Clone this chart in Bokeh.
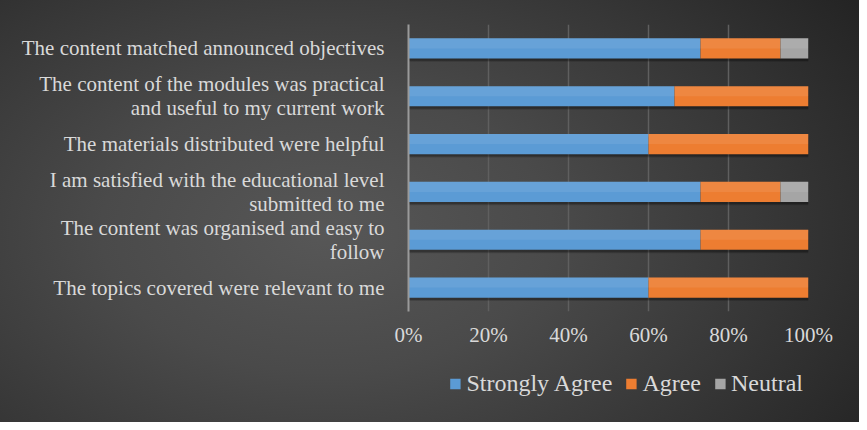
from bokeh.plotting import figure
from bokeh.layouts import column
from bokeh.models import Range1d, FixedTicker, NumeralTickFormatter, Legend, LegendItem, ColumnDataSource
from bokeh.transform import dodge
from bokeh.embed import file_html
from bokeh.resources import INLINE

categories = [
    "The content matched announced objectives",
    "The content of the modules was practical\nand useful to my current work",
    "The materials distributed were helpful",
    "I am satisfied with the educational level\nsubmitted to me",
    "The content was organised and easy to\nfollow",
    "The topics covered were relevant to me",
]
strongly_agree = [0.73, 0.665, 0.60, 0.73, 0.73, 0.60]
agree = [0.20, 0.335, 0.40, 0.20, 0.27, 0.40]
neutral = [0.07, 0.0, 0.0, 0.07, 0.0, 0.0]
series_names = ["Strongly Agree", "Agree", "Neutral"]
series_colors = ["#5b9bd5", "#ed7d31", "#a5a5a5"]
x_ticks = [0, 0.2, 0.4, 0.6, 0.8, 1.0]

factors = list(reversed(categories))
FONT = "Liberation Serif"
TXT = "#d9d9d9"

p = figure(
    width=859, height=365,
    y_range=factors, x_range=Range1d(0, 1),
    output_backend="svg", toolbar_location=None,
    min_border_left=408, min_border_right=51, min_border_top=24, min_border_bottom=54,
)
p.background_fill_alpha = 0
p.border_fill_alpha = 0
p.outline_line_color = None

lefts = [0.0] * len(categories)
ends1 = [a for a in strongly_agree]
ends2 = [a + b for a, b in zip(strongly_agree, agree)]
ends3 = [a + b + c for a, b, c in zip(strongly_agree, agree, neutral)]
source = ColumnDataSource(dict(y=categories, l0=lefts, e1=ends1, e2=ends2, e3=ends3))

# soft shadows
p.hbar(y=dodge("y", -0.05, range=p.y_range), left="l0", right="e3", height=0.42,
       source=source, fill_color="black", fill_alpha=0.25, line_color=None)
p.hbar(y=dodge("y", -0.07, range=p.y_range), left="l0", right="e3", height=0.42,
       source=source, fill_color="black", fill_alpha=0.15, line_color=None)

p.hbar(y="y", left="l0", right="e1", height=0.42, source=source,
       fill_color=series_colors[0], line_color=None)
p.hbar(y="y", left="e1", right="e2", height=0.42, source=source,
       fill_color=series_colors[1], line_color=None)
p.hbar(y="y", left="e2", right="e3", height=0.42, source=source,
       fill_color=series_colors[2], line_color=None)
p.hbar(y=dodge("y", 0.105, range=p.y_range), left="l0", right="e3", height=0.21,
       source=source, fill_color="white", fill_alpha=0.08, line_color=None)

p.xaxis.ticker = FixedTicker(ticks=x_ticks)
p.xaxis.formatter = NumeralTickFormatter(format="0%")
p.xaxis.axis_line_color = None
p.xaxis.major_tick_line_color = None
p.xaxis.minor_tick_line_color = None
p.xaxis.major_label_text_font = FONT
p.xaxis.major_label_text_font_size = "21px"
p.xaxis.major_label_text_color = TXT
p.xaxis.major_label_standoff = 5

p.yaxis.axis_line_color = "#9a9a9a"
p.yaxis.axis_line_width = 2
p.yaxis.major_tick_line_color = None
p.yaxis.minor_tick_line_color = None
p.yaxis.major_label_text_font = FONT
p.yaxis.major_label_text_font_size = "21px"
p.yaxis.major_label_text_color = TXT
p.yaxis.major_label_text_line_height = 1.0
p.yaxis.major_label_standoff = 18

p.ygrid.grid_line_color = None
p.xgrid.grid_line_color = "#5f5f5f"
p.xgrid.grid_line_width = 1.5

# legend strip
pl = figure(
    width=859, height=57, x_range=Range1d(0, 1), y_range=Range1d(0, 1),
    output_backend="svg", toolbar_location=None,
    x_axis_location=None, y_axis_location=None,
    min_border_left=408, min_border_right=51, min_border_top=0, min_border_bottom=0,
)
pl.grid.visible = False
pl.background_fill_alpha = 0
pl.border_fill_alpha = 0
pl.outline_line_color = None
items = []
for name, color in zip(series_names, series_colors):
    r = pl.hbar(y=[-5], left=[-5], right=[-4], height=0.5, fill_color=color, line_color=None)
    items.append(LegendItem(label=name, renderers=[r]))
legend = Legend(
    items=items, orientation="horizontal", location="top_right",
    background_fill_alpha=0, border_line_color=None,
    label_text_font=FONT, label_text_font_size="24px",
    label_text_color=TXT, glyph_width=13, glyph_height=13,
    label_standoff=5, spacing=12, padding=0, margin=5,
)
pl.add_layout(legend, "center")

layout = column(p, pl, spacing=0)
layout.styles = {"background": "radial-gradient(ellipse 75% 95% at 38% 55%, #575757 0%, #4a4a4a 35%, #363636 70%, #242424 100%)"}

open("out.html", "w").write(file_html(layout, INLINE))
